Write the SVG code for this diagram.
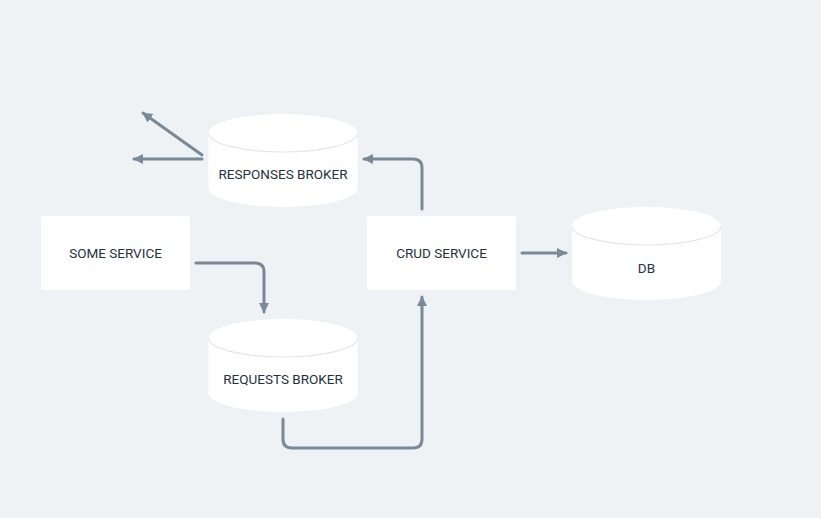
<svg xmlns="http://www.w3.org/2000/svg" width="821" height="518" viewBox="0 0 821 518">
<defs>
<style>
.box{fill:#ffffff;}
.cyl{fill:#ffffff;}
.rim{fill:none;stroke:#e3e7eb;stroke-width:1.2;}
.lbl{font-family:Roboto,"Liberation Sans",sans-serif;font-size:13.5px;font-weight:400;fill:#26313c;text-anchor:middle;dominant-baseline:central;}
.edge{fill:none;stroke:#7b8896;stroke-width:3;stroke-linecap:round;stroke-linejoin:round;}
</style>
<marker id="ah" viewBox="0 0 10 10" refX="9" refY="5" markerWidth="3.4" markerHeight="3.4" orient="auto" markerUnits="strokeWidth">
<path d="M0,0 L10,5 L0,10 z" fill="#7b8896"/>
</marker>
</defs>
<rect x="0" y="0" width="821" height="518" fill="#eff2f5"/>

<g id="edges">
<path class="edge" marker-end="url(#ah)" d="M196,263 H255 Q264,263 264,272 V312"/>
<path class="edge" marker-end="url(#ah)" d="M283,419 V439 Q283,448 292,448 H413 Q422,448 422,439 V297"/>
<path class="edge" marker-end="url(#ah)" d="M422,209 V168 Q422,159 413,159 H364"/>
<path class="edge" marker-end="url(#ah)" d="M202,159 H134"/>
<path class="edge" marker-end="url(#ah)" d="M202,155 L143,113"/>
<path class="edge" marker-end="url(#ah)" d="M522,253 H566"/>
</g>

<g id="some-service">
<rect class="box" x="41" y="216" width="149" height="74" rx="2"/>
<text class="lbl" x="115.5" y="253">SOME SERVICE</text>
</g>

<g id="crud-service">
<rect class="box" x="367" y="216" width="149" height="74" rx="2"/>
<text class="lbl" x="441.5" y="253">CRUD SERVICE</text>
</g>

<g id="responses-broker">
<path class="cyl" d="M208.5,133 A74.5,19 0 0 1 357.5,133 V188 A74.5,19 0 0 1 208.5,188 Z"/>
<path class="rim" d="M208.5,133 A74.5,19 0 0 0 357.5,133"/>
<text class="lbl" x="283" y="174">RESPONSES BROKER</text>
</g>

<g id="requests-broker">
<path class="cyl" d="M208.5,338 A74.5,19 0 0 1 357.5,338 V393 A74.5,19 0 0 1 208.5,393 Z"/>
<path class="rim" d="M208.5,338 A74.5,19 0 0 0 357.5,338"/>
<text class="lbl" x="283" y="379">REQUESTS BROKER</text>
</g>

<g id="db">
<path class="cyl" d="M572,226 A74.5,19 0 0 1 721,226 V281 A74.5,19 0 0 1 572,281 Z"/>
<path class="rim" d="M572,226 A74.5,19 0 0 0 721,226"/>
<text class="lbl" x="646.5" y="268">DB</text>
</g>
</svg>
